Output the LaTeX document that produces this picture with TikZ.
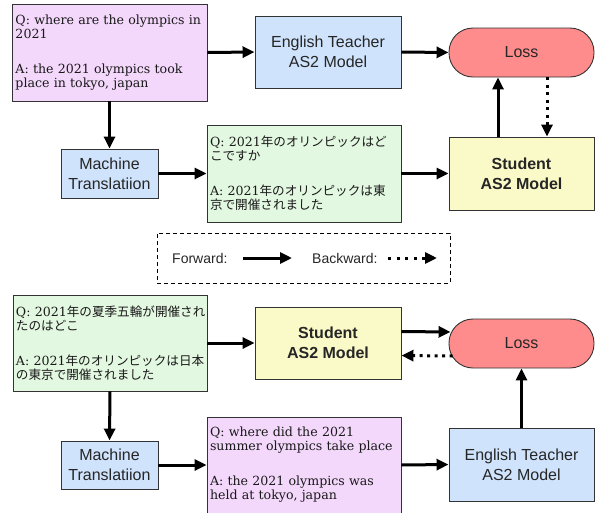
\documentclass[tikz,border=0pt]{standalone}
\usepackage{fontspec}
\setmainfont{DejaVu Serif}
\newfontfamily\sansf{Liberation Sans}
\newfontfamily\cjk{Noto Sans CJK JP}[Scale=1.0]
\usetikzlibrary{arrows.meta}
\definecolor{cpurple}{HTML}{F3D8FB}
\definecolor{cblue}{HTML}{CFE3FC}
\definecolor{cgreen}{HTML}{E3F8E1}
\definecolor{cyellow}{HTML}{FAFAC8}
\definecolor{cred}{HTML}{FF8C8C}
\definecolor{cline}{HTML}{333333}
\begin{document}
\begin{tikzpicture}[x=1pt,y=-1pt,
  box/.style={draw=cline, line width=0.9pt, inner sep=0pt, anchor=center},
  model/.style={box, font=\sansf\fontsize{16}{20}\selectfont, align=center, text=black!85},
  qa/.style={box, font=\fontsize{12.6}{14}\selectfont, align=left, text width=188pt, minimum width=194pt, minimum height=96pt, text=black!90},
  lossbox/.style={model, fill=cred, rounded corners=24pt, minimum width=145pt, minimum height=49pt},
  fw/.style={line width=3pt, -{Triangle[length=12pt,width=11pt]}},
  bw/.style={line width=3pt, dash pattern=on 3pt off 4.5pt, -{Triangle[length=12pt,width=11pt]}}]
\useasboundingbox (0,0) rectangle (595,512);
% ---- top half ----
\node[qa, fill=cpurple, minimum width=195pt, minimum height=97pt] (p1) at (109.5,52.5)
  {Q: where are the olympics in\\2021\\[21pt]A: the 2021 olympics took\\place in tokyo, japan};
\node[model, fill=cblue, minimum width=146pt, minimum height=72pt] (et1) at (328,52) {English Teacher\\AS2 Model};
\node[lossbox] (loss1) at (521.5,52.5) {Loss};
\node[model, fill=cblue, minimum width=97pt, minimum height=49pt] (mt1) at (109.5,173.5) {Machine\\Translatiion};
\node[qa, fill=cgreen, minimum height=97pt] (g1) at (304,173.5)
  {\mbox{Q: 2021{\cjk 年のオリンピックはど}}\\{\cjk こですか}\\[21pt]\mbox{A: 2021{\cjk 年のオリンピックは東}}\\{\cjk 京で開催されました}};
\node[model, fill=cyellow, minimum width=145pt, minimum height=73pt, font=\sansf\bfseries\fontsize{16}{20}\selectfont] (st1) at (521.5,173.5) {Student\\AS2 Model};
\draw[fw] (p1.east) -- (et1.west);
\draw[fw] (et1.east) -- (loss1.west);
\draw[fw] (p1.south) -- (mt1.north);
\draw[fw] (mt1.east) -- (g1.west);
\draw[fw] (g1.east) -- (st1.west);
\draw[fw] ([xshift=-23.5pt]st1.north) -- ([xshift=-23.5pt]loss1.south);
\draw[bw] ([xshift=25.5pt]loss1.south) -- ([xshift=25.5pt]st1.north);
% ---- legend ----
\node[draw=black, line width=0.8pt, dash pattern=on 4pt off 3pt, minimum width=293pt, minimum height=50pt, inner sep=0pt] (legend) at (303.5,258) {};
\node[anchor=west, inner sep=0pt, font=\sansf\fontsize{14}{16}\selectfont, text=black!85] (lf) at (172,258) {Forward:};
\coordinate (lfa) at (243,258);
\coordinate (lfb) at (292,258);
\draw[fw] (lfa) -- (lfb);
\node[anchor=west, inner sep=0pt, font=\sansf\fontsize{14}{16}\selectfont, text=black!85] (lb) at (312,258) {Backward:};
\coordinate (lba) at (388,258);
\coordinate (lbb) at (437,258);
\draw[bw, dash pattern=on 3pt off 5.5pt] (lba) -- (lbb);
% ---- bottom half ----
\node[qa, fill=cgreen] (g2) at (110,343)
  {\mbox{Q: 2021{\cjk 年の夏季五輪が開催され}}\\{\cjk たのはどこ}\\[21pt]\mbox{A: 2021{\cjk 年のオリンピックは日本}}\\{\cjk の東京で開催されました}};
\node[model, fill=cyellow, minimum width=146pt, minimum height=72pt, font=\sansf\bfseries\fontsize{16}{20}\selectfont] (st2) at (328,343) {Student\\AS2 Model};
\node[lossbox] (loss2) at (521.5,343.5) {Loss};
\node[model, fill=cblue, minimum width=97pt, minimum height=48pt] (mt2) at (109.5,465) {Machine\\Translatiion};
\node[qa, fill=cpurple] (p2) at (304,465)
  {Q: where did the 2021\\summer olympics take place\\[21pt]A: the 2021 olympics was\\held at tokyo, japan};
\node[model, fill=cblue, minimum width=145pt, minimum height=73pt] (et2) at (521.5,464.5) {English Teacher\\AS2 Model};
\draw[fw] (g2.east) -- (st2.west);
\draw[fw] ([yshift=11.5pt]st2.east) -- ([yshift=11.5pt,xshift=2pt]loss2.west);
\draw[bw] ([yshift=-12.5pt,xshift=4pt]loss2.west) -- ([yshift=-12.5pt]st2.east);
\draw[fw] (et2.north) -- (loss2.south);
\draw[fw] (p2.east) -- (et2.west);
\draw[fw] (mt2.east) -- (p2.west);
\draw[fw] (g2.south) -- (mt2.north);
\end{tikzpicture}
\end{document}
